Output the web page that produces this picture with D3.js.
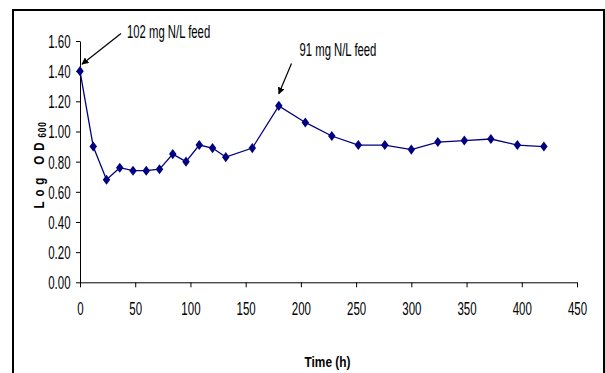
<!DOCTYPE html>
<html>
<head>
<meta charset="utf-8">
<script src="https://cdn.jsdelivr.net/npm/d3@7"></script>
<style>
  body { margin: 0; background: #fff; overflow: hidden; }
  svg { display: block; }
  text { font-family: "Liberation Sans", Arial, sans-serif; fill: #000; }
</style>
</head>
<body>
<div id="container"></div>
<script>
// sampling times (h) and log OD600 readings
let times = [0, 12, 24, 36, 48, 60, 72, 84, 96, 108, 120, 132, 156, 180, 204, 228, 252, 276, 300, 324, 348, 372, 396, 420];
let logOD = [1.40, 0.90, 0.68, 0.76, 0.74, 0.74, 0.75, 0.85, 0.80, 0.91, 0.89, 0.83, 0.89, 1.17, 1.06, 0.97, 0.91, 0.91, 0.88, 0.93, 0.94, 0.95, 0.91, 0.90];
let xTicks = [0, 50, 100, 150, 200, 250, 300, 350, 400, 450];
let yTicks = [0, 0.2, 0.4, 0.6, 0.8, 1.0, 1.2, 1.4, 1.6];
let feedLabels = ['102 mg N/L feed', '91 mg N/L feed'];
let feedIndex = [0, 13];

let width = 605;
let height = 373;
let plotLeft = 80, plotRight = 577, plotTop = 41, plotBottom = 282.3;
let sx = 0.82;       // no narrow font installed, squeeze Liberation Sans instead
let stretch = 1.3;   // text in the original is stretched vertically
let lineColor = '#000080';

let svg = d3.select('#container').append('svg')
    .attr('width', width).attr('height', height);

svg.append('rect').attr('width', width).attr('height', height).attr('fill', '#fff');

// outer frame: top, left and right edges (bottom is cut off in the picture)
let frame = svg.append('g').attr('stroke', '#000').attr('stroke-width', 2)
    .attr('shape-rendering', 'crispEdges');
frame.append('line').attr('x1', 12).attr('x2', 605).attr('y1', 10).attr('y2', 10);
frame.append('line').attr('x1', 13).attr('x2', 13).attr('y1', 9).attr('y2', height);
frame.append('line').attr('x1', 604).attr('x2', 604).attr('y1', 9).attr('y2', height);

let xScale = d3.scaleLinear().domain([0, 450]).range([plotLeft, plotRight]);
let yScale = d3.scaleLinear().domain([0, 1.6]).range([plotBottom, plotTop]);

let yAxis = svg.append('g')
    .attr('transform', 'translate(' + plotLeft + ',0)')
    .call(d3.axisLeft(yScale).tickValues(yTicks).tickFormat(d3.format('.2f'))
        .tickSize(4).tickSizeOuter(0).tickPadding(5));

let xAxis = svg.append('g')
    .attr('transform', 'translate(0,' + plotBottom + ')')
    .call(d3.axisBottom(xScale).tickValues(xTicks)
        .tickSize(5).tickSizeOuter(0));

[xAxis, yAxis].forEach(ax => {
    ax.attr('font-family', null);
    ax.select('.domain').attr('stroke', '#000');
    ax.selectAll('.tick line').attr('stroke', '#000');
    ax.selectAll('text')
        .attr('font-size', 14)
        .attr('transform', 'scale(' + sx + ',' + stretch + ')');
});
yAxis.selectAll('text').attr('x', -9.5 / sx).attr('dy', '0.35em');
xAxis.selectAll('text').attr('y', 33 / stretch).attr('dy', 0);

// axis titles
svg.append('text')
    .attr('transform', 'translate(' + ((plotLeft + plotRight) / 2 - 1) + ',367) scale(' + sx + ',1.05)')
    .attr('text-anchor', 'middle')
    .attr('font-size', 14.5).attr('font-weight', 'bold')
    .text('Time (h)');

let yTitle = svg.append('text')
    .attr('transform', 'translate(43.5,165) rotate(-90) scale(' + sx + ',1)')
    .attr('text-anchor', 'middle')
    .attr('font-size', 14).attr('font-weight', 'bold');
yTitle.append('tspan').attr('letter-spacing', 6).text('Log OD');
yTitle.append('tspan').attr('font-size', 10).attr('dy', 2).attr('letter-spacing', 1).text('600');

// data line
let line = d3.line()
    .x((d, i) => xScale(times[i]))
    .y(d => yScale(d));

svg.append('path')
    .datum(logOD)
    .attr('fill', 'none')
    .attr('stroke', lineColor)
    .attr('stroke-width', 1.3)
    .attr('d', line);

// diamond markers, a little taller than wide
let tallDiamond = {
    draw(ctx, size) {
        let w = Math.sqrt(size) / 2;
        let h = w * 1.35;
        ctx.moveTo(0, -h);
        ctx.lineTo(w, 0);
        ctx.lineTo(0, h);
        ctx.lineTo(-w, 0);
        ctx.closePath();
    }
};

svg.selectAll('.marker')
    .data(logOD).enter()
    .append('path').attr('class', 'marker')
    .attr('transform', (d, i) => 'translate(' + xScale(times[i]) + ',' + yScale(d) + ')')
    .attr('d', d3.symbol().type(tallDiamond).size(56))
    .attr('fill', lineColor);

// feed annotations with arrows
svg.append('defs').append('marker')
    .attr('id', 'arrow')
    .attr('viewBox', '0 0 10 10')
    .attr('refX', 9).attr('refY', 5)
    .attr('markerWidth', 7).attr('markerHeight', 7)
    .attr('markerUnits', 'userSpaceOnUse')
    .attr('orient', 'auto')
    .append('path').attr('d', 'M0,0L10,5L0,10z').attr('fill', '#000');

let labelPos = [[127, 38.3], [299.5, 56]];
let arrowStart = [[121, 33.5], [291.5, 63.5]];
let arrowGap = [[2, -7], [0, -12]];

feedLabels.forEach((txt, i) => {
    svg.append('text')
        .attr('transform', 'translate(' + labelPos[i][0] + ',' + labelPos[i][1] + ') scale(' + sx + ',' + stretch + ')')
        .attr('font-size', 13.8)
        .text(txt);
    let px = xScale(times[feedIndex[i]]) + arrowGap[i][0];
    let py = yScale(logOD[feedIndex[i]]) + arrowGap[i][1];
    svg.append('line')
        .attr('x1', arrowStart[i][0]).attr('y1', arrowStart[i][1])
        .attr('x2', px).attr('y2', py)
        .attr('stroke', '#000').attr('stroke-width', 1.2)
        .attr('marker-end', 'url(#arrow)');
});
</script>
</body>
</html>
